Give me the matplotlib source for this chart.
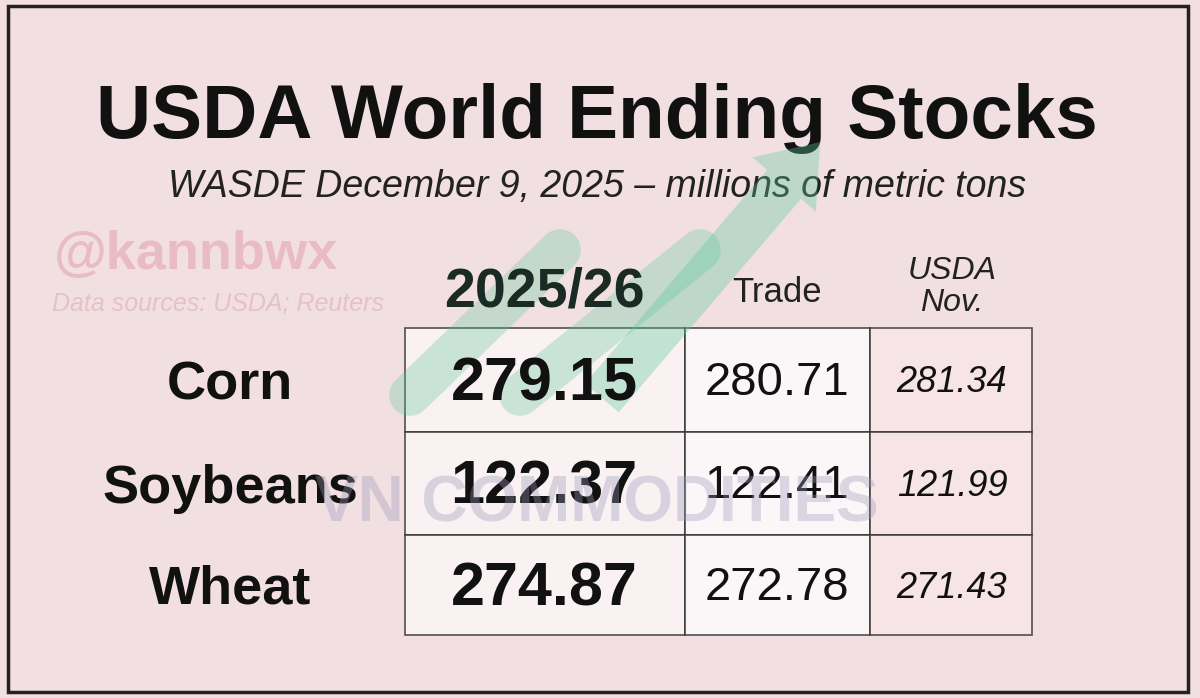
import matplotlib.pyplot as plt
from matplotlib.patches import Rectangle

plt.rcParams['font.family'] = ['Liberation Sans', 'DejaVu Sans']

crops = ["Corn", "Soybeans", "Wheat"]
current = ["279.15", "122.37", "274.87"]
trade = ["280.71", "122.41", "272.78"]
usda_nov = ["281.34", "121.99", "271.43"]

bg = "#f1dfe2"
fig = plt.figure(figsize=(12, 6.98), dpi=100)
fig.patch.set_facecolor(bg)
ax = fig.add_axes([0, 0, 1, 1])
ax.set_xlim(0, 1200)
ax.set_ylim(698, 0)
ax.axis("off")

# outer frame
ax.add_patch(Rectangle((8, 6), 1180, 686, fill=False, ec="#222222", lw=2.5))

ax.text(597, 118, "USDA World Ending Stocks", ha="center", va="center",
        fontsize=55, fontweight="bold", color="#111111")
ax.text(597, 187, "WASDE December 9, 2025 \u2013 millions of metric tons",
        ha="center", va="center", fontsize=27, style="italic", color="#222222")

# watermarks
ax.text(54, 255, "@kannbwx", ha="left", va="center", fontsize=39,
        fontweight="bold", color="#e8b9bf", alpha=0.9)
ax.text(52, 304, "Data sources: USDA; Reuters", ha="left", va="center",
        fontsize=18, style="italic", color="#e6c2c6")

# faint watermark arrows
for x0, y0, x1, y1 in [(410, 395, 560, 250), (520, 395, 700, 250)]:
    ax.plot([x0, x1], [y0, y1], color="#5cc99a", lw=30, alpha=0.3,
            solid_capstyle="round")
ax.annotate("", xy=(822, 140), xytext=(600, 400),
            arrowprops=dict(arrowstyle="simple,head_width=3,head_length=2,tail_width=1.6",
                            fc="#5cc99a", ec="none", alpha=0.35),
            fontsize=20)

# headers
ax.text(544, 292, "2025/26", ha="center", va="center", fontsize=40,
        fontweight="bold", color="#1a2a24")
ax.text(777, 292, "Trade", ha="center", va="center", fontsize=25, color="#222222")
ax.text(952, 287, "USDA\nNov.", ha="center", va="center", fontsize=23,
        style="italic", color="#222222", linespacing=1.05)

xs = [405, 685, 870, 1032]
ys = [328, 432, 535, 635]
fills = ["#fbf5f6", "#fdfbfb", "#f8e6e9"]
for i in range(3):
    for j in range(3):
        ax.add_patch(Rectangle((xs[j], ys[i]), xs[j + 1] - xs[j], ys[i + 1] - ys[i],
                               fc=fills[j], ec="#333333", lw=1.2, alpha=0.85))

for i in range(3):
    yc = (ys[i] + ys[i + 1]) / 2
    ax.text(230, yc + 5, crops[i], ha="center", va="center", fontsize=39,
            fontweight="bold", color="#111111")
    ax.text(544, yc + 5, current[i], ha="center", va="center", fontsize=44,
            fontweight="bold", color="#111111")
    ax.text(777, yc + 3, trade[i], ha="center", va="center", fontsize=34, color="#111111")
    ax.text(952, yc + 3, usda_nov[i], ha="center", va="center", fontsize=26,
            style="italic", color="#111111")

ax.text(597, 505, "VN COMMODITIES", ha="center", va="center", fontsize=46,
        fontweight="bold", color="#9a9ab8", alpha=0.35)

fig.savefig("out.png", dpi=100, facecolor=bg)
